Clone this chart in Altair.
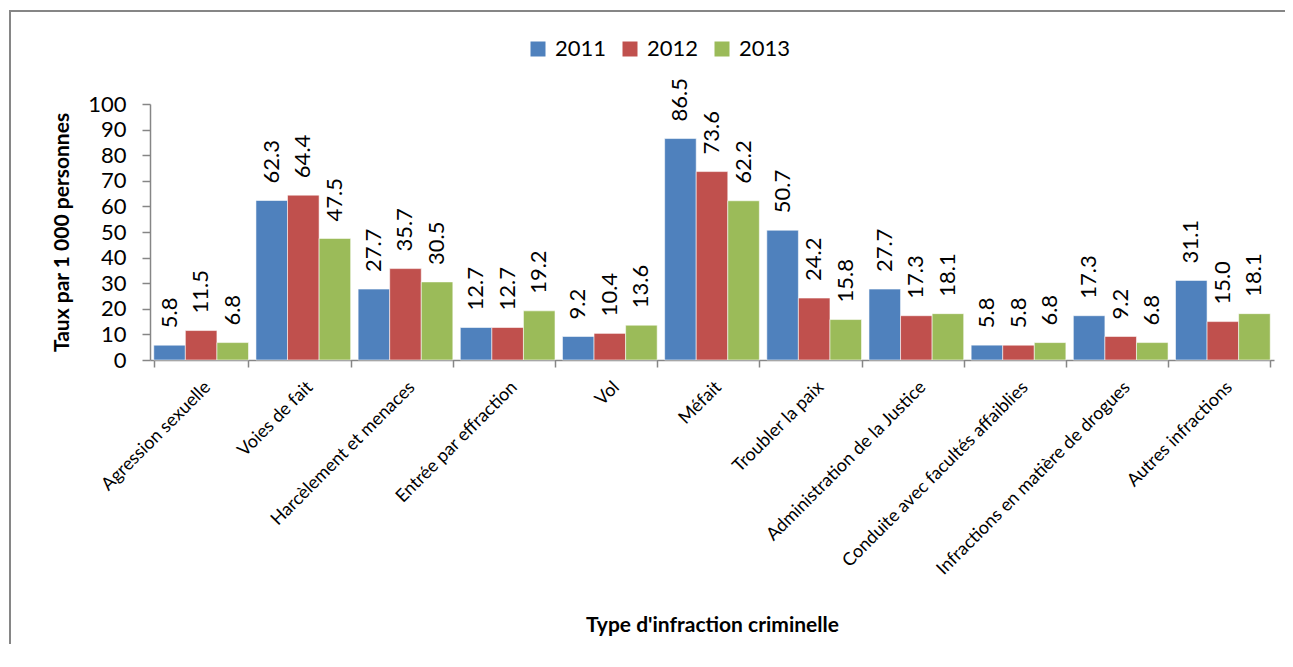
import altair as alt
import pandas as pd

categories = [
    "Agression sexuelle",
    "Voies de fait",
    "Harcèlement et menaces",
    "Entrée par effraction",
    "Vol",
    "Méfait",
    "Troubler la paix",
    "Administration de la Justice",
    "Conduite avec facultés affaiblies",
    "Infractions en matière de drogues",
    "Autres infractions",
]
years = ["2011", "2012", "2013"]
v2011 = [5.8, 62.3, 27.7, 12.7, 9.2, 86.5, 50.7, 27.7, 5.8, 17.3, 31.1]
v2012 = [11.5, 64.4, 35.7, 12.7, 10.4, 73.6, 24.2, 17.3, 5.8, 9.2, 15.0]
v2013 = [6.8, 47.5, 30.5, 19.2, 13.6, 62.2, 15.8, 18.1, 6.8, 6.8, 18.1]
colors = ["#4F81BD", "#C0504D", "#9BBB59"]
y_ticks = [0, 10, 20, 30, 40, 50, 60, 70, 80, 90, 100]

rows = []
for yr, vals in zip(years, [v2011, v2012, v2013]):
    for c, v in zip(categories, vals):
        rows.append({"cat": c, "year": yr, "val": v})
df = pd.DataFrame(rows)

FONT = "Lato"
AXIS_COLOR = "#868686"

x_enc = alt.X(
    "cat:N",
    sort=categories,
    scale=alt.Scale(paddingInner=0.073, paddingOuter=0.037),
    axis=alt.Axis(
        title="Type d'infraction criminelle",
        labelAngle=-45,
        labelAlign="right",
        labelBaseline="top",
        labelPadding=11,
        labelFontSize=18,
        labelLimit=0,
        tickBand="extent",
        tickSize=7,
        titleX=562,
        titleY=265,
        titleBaseline="middle",
        titleAlign="center",
    ),
)
xoff_enc = alt.XOffset("year:N", sort=years, scale=alt.Scale(paddingInner=0, paddingOuter=0))
y_enc = alt.Y(
    "val:Q",
    scale=alt.Scale(domain=[0, 100], nice=False),
    axis=alt.Axis(
        values=y_ticks,
        title="Taux par 1 000 personnes",
        grid=False,
        tickSize=8,
        labelPadding=16,
        labelFontSize=22,
        titleX=-88,
        titleY=128,
        titleAlign="center",
        titleBaseline="middle",
    ),
)

base = alt.Chart(df).encode(x=x_enc, xOffset=xoff_enc, y=y_enc)

bars = base.mark_bar(stroke="#ffffff", strokeWidth=0.8, strokeOpacity=0.7).encode(
    color=alt.Color(
        "year:N",
        sort=years,
        scale=alt.Scale(domain=years, range=colors),
        legend=alt.Legend(
            orient="none",
            legendX=377,
            legendY=-66,
            direction="horizontal",
            title=None,
            symbolType="square",
            symbolSize=225,
            symbolStrokeWidth=0,
            labelFontSize=22,
            labelFont=FONT,
            labelColor="#000000",
            columnPadding=12,
            labelOffset=6,
        ),
    )
)

labels = base.mark_text(
    angle=270, align="left", baseline="middle", dx=17, font=FONT, fontSize=22, color="#000000"
).encode(text=alt.Text("val:Q", format=".1f"))

frame_df = pd.DataFrame({"k": [0]})
frame = alt.Chart(frame_df).mark_rect(
    fillOpacity=0, stroke=AXIS_COLOR, strokeWidth=2
).encode(
    x=alt.value(-140), x2=alt.value(1250), y=alt.value(-93), y2=alt.value(700)
)

chart = (
    alt.layer(bars, labels, frame)
    .properties(
        width=1124,
        height=256,
        autosize=alt.AutoSizeParams(type="none"),
        padding={"left": 142, "top": 96, "right": 11, "bottom": 284},
    )
    .configure_view(stroke=None)
    .configure_axis(
        labelFont=FONT,
        titleFont=FONT,
        labelColor="#000000",
        titleColor="#000000",
        titleFontSize=21,
        titleFontWeight="bold",
        domainColor=AXIS_COLOR,
        tickColor=AXIS_COLOR,
        domainWidth=1.5,
        tickWidth=1.5,
    )
)

chart.save("out.html", embed_options={"renderer": "svg", "actions": False})
